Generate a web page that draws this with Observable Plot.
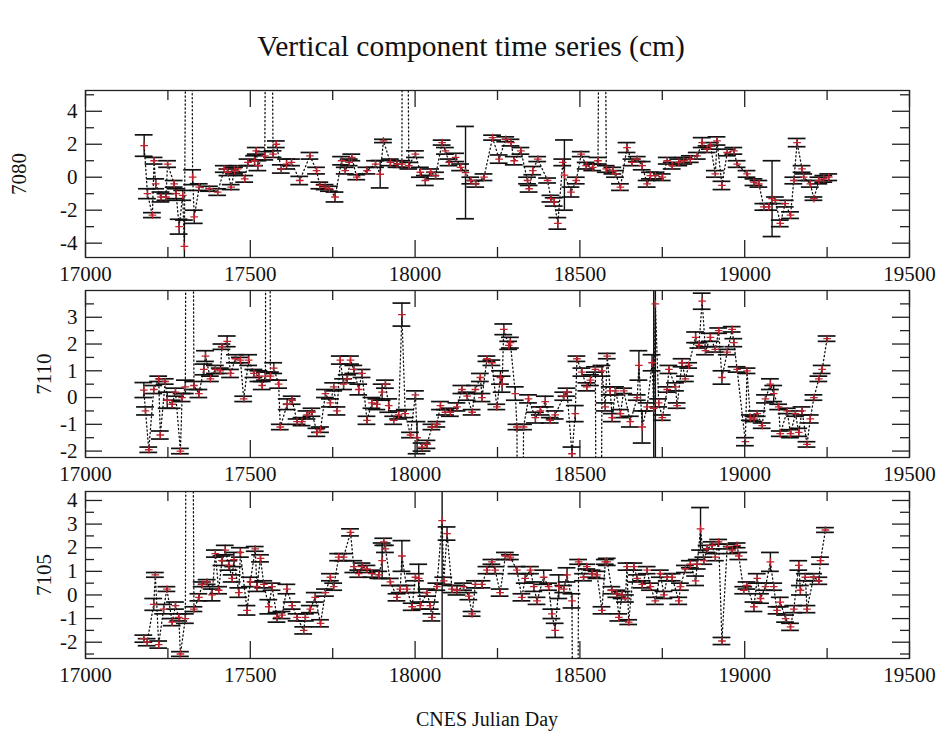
<!DOCTYPE html>
<html><head><meta charset="utf-8">
<script src="https://cdn.jsdelivr.net/npm/d3@7"></script>
<script src="https://cdn.jsdelivr.net/npm/@observablehq/plot@0.6"></script>
<style>
body{margin:0;background:#fff;}
#wrap{position:relative;width:942px;height:735px;font-family:"Liberation Serif","DejaVu Serif",serif;color:#111;overflow:hidden;}
.t{position:absolute;white-space:nowrap;}
.plot{position:absolute;left:0;}
.plot text{font-family:"Liberation Serif","DejaVu Serif",serif !important;}
</style></head><body><div id="wrap"></div>
<script>
// ---------- data ----------
const titleText = "Vertical component time series (cm)";
const xTitle = "CNES Julian Day";
const xDomain = [17000, 19500];
const xMajor = [17000, 17500, 18000, 18500, 19000, 19500];
const xMinor = [17250, 17750, 18250, 18750, 19250];

// station 7080
const days7080 = [17178,17188,17203,17208,17213,17229,17244,17249,17269,17275,17284,17295,17300,17315,17325,17330,17345,17376,17401,17421,17432,17442,17452,17462,17483,17493,17513,17518,17523,17544,17555,17569,17579,17594,17610,17625,17650,17681,17701,17711,17727,17740,17757,17777,17788,17800,17808,17823,17854,17880,17894,17904,17925,17945,17960,17965,17981,18001,18016,18031,18047,18062,18082,18092,18103,18123,18138,18153,18169,18184,18209,18235,18255,18275,18291,18301,18321,18341,18346,18357,18372,18402,18412,18422,18433,18448,18453,18473,18489,18504,18519,18539,18555,18567,18580,18600,18608,18623,18643,18658,18674,18689,18704,18714,18729,18750,18765,18780,18800,18815,18835,18856,18871,18886,18896,18911,18916,18931,18947,18967,18977,19007,19028,19043,19058,19073,19083,19093,19108,19123,19139,19149,19159,19174,19179,19199,19210,19225,19240,19255];
const vals7080 = [1.92,-1.0,-2.3,1.0,-0.4,-1.2,-1.2,0.8,-0.4,-1.0,-3.0,-1.1,-4.2,45,0.0,-2.4,-0.6,-0.7,-0.9,0.5,0.3,-0.6,0.4,0.5,-0.1,0.9,1.0,1.6,0.7,1.3,45,1.4,2.0,0.5,0.8,0.9,-0.2,1.3,0.4,-0.5,-0.6,-0.7,-1.2,1.0,0.4,0.9,1.2,0.0,0.4,0.8,0.18,2.2,0.9,0.8,0.8,45,0.7,1.4,0.3,-0.2,0.3,0.1,2.1,1.6,0.9,1.2,0.6,0.28,-0.2,-0.4,0.0,2.4,1.1,2.3,2.1,1.0,1.6,-0.2,-0.7,0.4,1.1,-0.2,-1.3,-1.5,-2.8,0.9,0.13,-0.9,-0.2,1.4,0.7,0.6,1.0,45,0.5,0.4,0.2,-0.6,1.8,0.9,1.1,0.7,-0.4,0.1,0.1,0.0,1.0,0.7,0.9,1.0,1.1,1.3,2.1,1.7,1.9,0.2,2.2,-0.5,1.5,1.6,0.8,0.2,-0.3,-0.4,-1.8,-1.8,-1.3,-1.4,-2.8,-1.6,-2.3,-0.2,2.1,0.5,0.0,-0.4,-1.3,-0.2,-0.1,0.0];
const errs7080 = [0.65,0.3,0.15,0.2,0.3,0.3,0.2,0.2,0.2,0.3,0.45,0.3,1.6,0.3,0.45,0.4,0.2,0.15,0.2,0.2,0.2,0.15,0.2,0.2,0.2,0.2,0.3,0.2,0.3,0.25,0.3,0.2,0.2,0.25,0.3,0.2,0.25,0.2,0.2,0.2,0.15,0.15,0.3,0.25,0.2,0.2,0.2,0.15,0.2,0.2,0.83,0.1,0.2,0.2,0.2,0.3,0.2,0.2,0.3,0.3,0.2,0.2,0.15,0.2,0.2,0.25,0.2,2.8,0.2,0.2,0.2,0.15,0.25,0.15,0.2,0.25,0.2,0.2,0.2,0.25,0.15,0.15,0.2,0.25,0.35,0.2,2.13,0.3,0.2,0.15,0.2,0.2,0.2,0.3,0.2,0.2,0.2,0.2,0.3,0.2,0.15,0.25,0.2,0.2,0.2,0.2,0.2,0.2,0.2,0.2,0.2,0.2,0.3,0.2,0.2,0.2,0.25,0.25,0.2,0.2,0.2,0.2,0.2,0.2,0.2,0.2,2.3,0.2,0.2,0.2,0.2,0.2,0.25,0.2,0.2,0.2,0.1,0.2,0.2,0.2];

// station 7110
const days7110 = [17177,17182,17192,17207,17222,17227,17242,17248,17263,17273,17288,17293,17303,17313,17329,17344,17359,17364,17379,17394,17409,17414,17430,17440,17455,17470,17480,17495,17511,17526,17536,17546,17551,17561,17571,17586,17591,17612,17627,17642,17657,17672,17687,17702,17713,17728,17743,17753,17763,17773,17783,17794,17804,17814,17829,17839,17854,17869,17884,17900,17910,17920,17935,17950,17960,17970,17986,18001,18006,18021,18036,18051,18066,18077,18092,18107,18127,18142,18158,18173,18183,18198,18203,18218,18233,18248,18259,18264,18269,18284,18289,18304,18309,18319,18329,18344,18365,18380,18395,18410,18425,18451,18461,18476,18486,18491,18506,18521,18532,18547,18557,18567,18577,18583,18592,18598,18608,18623,18633,18653,18674,18679,18689,18704,18719,18724,18729,18739,18750,18765,18770,18790,18795,18810,18820,18830,18851,18861,18871,18881,18896,18911,18921,18931,18947,18962,18967,18977,19002,19007,19017,19028,19038,19053,19063,19078,19088,19103,19108,19129,19139,19154,19164,19174,19189,19199,19210,19225,19235,19250];
const vals7110 = [0.28,-0.5,-1.95,0.3,0.7,-1.4,0.6,-0.1,-0.25,0.2,-2.0,0.0,0.4,45,0.45,0.15,1.05,1.55,0.7,1.05,1.0,1.9,2.1,0.9,1.45,1.4,-0.05,1.4,0.9,0.8,0.45,0.8,45,0.8,1.1,0.5,-1.1,-0.25,-0.1,-0.9,-0.9,-0.65,-0.55,-1.3,-1.2,0.15,-0.2,0.4,-0.5,1.4,0.5,0.7,1.4,1.05,0.3,0.9,-0.85,-0.2,-0.25,0.2,0.5,-0.3,-0.85,-0.65,3.1,-0.6,-1.4,0.1,-1.5,-1.85,-1.75,-1.1,-1.0,-0.3,-0.55,-0.55,-0.35,0.3,0.05,-0.55,0.3,0.75,0.0,1.45,1.3,-0.35,0.75,0.5,2.55,1.95,2.05,0.15,-1.1,-30,-1.1,-0.05,-0.75,-0.5,-0.15,-0.85,-0.65,0.05,0.2,-2.1,-0.6,1.45,0.95,0.4,0.65,1.05,-30,1.0,-0.35,1.55,0.25,-0.75,0.25,-0.6,0.25,-0.9,0.0,1.2,-1.1,-0.35,1.3,-0.4,3.5,-0.2,-0.75,0.3,1.05,0.4,-0.3,1.3,0.7,1.2,2.25,1.95,3.6,1.75,2.25,1.8,2.5,0.75,1.7,2.55,2.05,1.05,-1.65,1.0,-0.75,-0.8,-0.6,-1.05,-0.05,0.5,0.15,-0.35,-1.35,-0.5,-1.35,-0.6,-1.3,-0.5,-1.75,-0.8,0.0,0.7,1.05,2.2];
const errs7110 = [0.28,0.15,0.1,0.15,0.1,0.15,0.1,0.3,0.15,0.15,0.1,0.15,0.25,0.3,0.15,0.15,0.2,0.2,0.1,0.15,0.1,0.1,0.2,0.15,0.15,0.1,0.1,0.2,0.15,0.2,0.15,0.15,0.3,0.15,0.2,0.15,0.1,0.2,0.15,0.1,0.15,0.15,0.15,0.15,0.1,0.15,0.15,0.15,0.15,0.15,0.2,0.15,0.15,0.15,0.2,0.15,0.15,0.2,0.2,0.3,0.15,0.25,0.15,0.15,0.43,0.15,0.1,0.15,0.6,0.15,0.15,0.1,0.1,0.15,0.1,0.15,0.15,0.15,0.15,0.1,0.15,0.15,0.15,0.1,0.1,0.1,0.25,0.3,0.2,0.15,0.2,0.25,0.1,0.3,0.1,0.15,0.2,0.15,0.2,0.1,0.15,0.15,0.15,0.25,0.3,0.1,0.15,0.15,0.2,0.1,0.3,0.2,0.15,0.1,0.15,0.15,0.15,0.15,0.1,0.2,0.1,0.55,0.6,0.15,0.3,5,6,0.15,0.1,0.1,0.15,0.15,0.1,0.15,0.1,0.1,0.2,0.1,0.3,0.15,0.15,0.1,0.1,0.25,0.1,0.1,0.15,0.1,0.15,0.1,0.1,0.1,0.1,0.1,0.15,0.2,0.3,0.1,0.1,0.1,0.15,0.1,0.15,0.15,0.1,0.15,0.1,0.1,0.15,0.1];

// station 7105
const days7105 = [17177,17187,17207,17212,17222,17237,17247,17263,17273,17283,17288,17303,17313,17329,17344,17354,17369,17384,17394,17404,17414,17424,17435,17445,17450,17465,17470,17490,17500,17515,17520,17531,17541,17556,17566,17581,17596,17611,17627,17642,17662,17667,17682,17697,17713,17728,17743,17753,17768,17783,17804,17814,17829,17839,17854,17869,17890,17900,17905,17910,17925,17945,17955,17960,17975,17991,18001,18011,18016,18036,18046,18051,18066,18082,18087,18097,18112,18127,18147,18163,18173,18183,18203,18218,18233,18243,18258,18274,18289,18309,18324,18334,18350,18360,18370,18390,18405,18415,18425,18436,18451,18461,18476,18486,18496,18511,18521,18537,18552,18567,18577,18583,18597,18612,18618,18628,18638,18643,18648,18664,18674,18689,18704,18714,18729,18744,18755,18765,18780,18800,18805,18820,18835,18851,18856,18866,18876,18886,18901,18911,18921,18931,18947,18962,18977,18982,18997,19007,19028,19038,19048,19063,19078,19088,19098,19108,19124,19139,19149,19164,19169,19184,19189,19209,19225,19230,19245];
const vals7105 = [-1.85,-2.0,-0.4,0.85,-2.1,-0.6,0.25,-1.15,-0.45,-0.95,-2.5,-1.0,45,-0.6,-0.1,0.45,0.55,0.0,1.75,0.2,1.45,1.9,1.25,0.7,1.5,0.1,1.8,-0.65,0.55,1.95,0.35,1.55,0.45,-0.5,0.35,-0.95,-0.85,0.25,-0.45,-0.95,-1.5,-0.95,-0.6,-0.1,-1.2,0.1,0.75,0.35,1.6,1.6,2.65,1.2,0.9,1.2,1.1,0.9,0.85,1.45,2.25,1.95,0.55,-0.1,0.25,1.65,0.25,-0.5,0.75,0.7,-0.45,0.1,-0.45,-0.95,0.35,3.15,0.6,2.6,0.25,0.2,0.35,-0.05,-0.8,0.45,0.45,1.05,1.4,1.05,0.1,1.65,1.6,1.05,-0.1,0.7,1.05,0.35,-0.25,0.75,0.35,-0.8,-1.5,0.35,0.25,0.85,-0.25,-30,1.4,0.75,1.2,0.9,0.85,-0.65,1.4,1.4,0.2,0.05,-0.95,0.0,-0.15,1.2,-1.15,1.2,0.7,0.45,1.05,0.35,-0.25,0.9,0.0,0.75,0.75,-0.25,0.35,1.1,1.3,0.6,1.3,2.8,1.45,1.95,2.1,1.6,2.25,-1.95,2.05,1.9,2.1,1.65,0.2,0.4,-0.5,0.7,-0.15,0.35,1.4,0.35,-0.65,-0.3,-1.0,-1.35,-0.6,1.25,0.2,0.75,-0.6,0.75,0.6,1.45,2.75];
const errs7105 = [0.15,0.15,0.25,0.1,0.15,0.2,0.1,0.15,0.15,0.15,0.1,0.2,0.3,0.1,0.15,0.1,0.1,0.25,0.15,0.15,0.2,0.2,0.2,0.15,0.3,0.2,0.2,0.2,0.2,0.1,0.2,0.15,0.15,0.3,0.15,0.2,0.15,0.2,0.15,0.15,0.15,0.15,0.15,0.2,0.15,0.15,0.15,0.15,0.15,0.15,0.15,0.25,0.15,0.15,0.15,0.15,0.15,0.75,0.15,0.15,0.15,0.15,0.15,0.65,0.15,0.15,0.15,0.6,0.15,0.15,0.15,0.15,0.15,8,0.15,0.28,0.15,0.2,0.15,0.15,0.1,0.15,0.15,0.15,0.1,0.15,0.15,0.15,0.1,0.15,0.15,0.2,0.15,0.2,0.15,0.3,0.15,0.2,0.3,0.5,0.15,0.3,0.3,0.3,0.1,0.15,0.1,0.15,0.15,0.15,0.1,0.15,0.15,0.15,0.15,0.15,0.15,0.15,0.1,0.15,0.15,0.15,0.15,0.15,0.15,0.15,0.15,0.15,0.15,0.15,0.15,0.15,0.15,0.2,0.2,0.9,0.15,0.15,0.15,0.15,0.1,0.15,0.1,0.15,0.1,0.15,0.15,0.15,0.2,0.2,0.2,0.15,0.4,0.15,0.15,0.2,0.15,0.15,0.15,0.2,0.2,0.15,0.15,0.15,0.15,0.15,0.1];

// ---------- layout ----------
const W = 942, ML = 85, MR = 33, MT = 10, FH = 167, MB = 40;
const FW = W - ML - MR;
const FONT = '"Liberation Serif","DejaVu Serif",serif';
const INK = "#111";
const wrap = document.getElementById("wrap");

function addText(txt, css) {
  const d = document.createElement("div");
  d.className = "t";
  d.textContent = txt;
  Object.assign(d.style, css);
  wrap.appendChild(d);
  return d;
}

function panel(days, vals, errs, yDomain, yMajor, yMinor, frameTop, label, labelX) {
  const data = d3.sort(days.map((x, i) => ({x, y: vals[i], e: errs[i]})), d => d.x);
  const cap = 27;
  const tk = {stroke: "#222", strokeWidth: 1.3};
  const p = Plot.plot({
    width: W, height: MT + FH + MB,
    marginLeft: ML, marginRight: MR, marginTop: MT, marginBottom: MB,
    style: {fontFamily: FONT, fontSize: "21px", background: "transparent", color: INK, overflow: "visible"},
    x: {domain: xDomain, label: null},
    y: {domain: yDomain, label: null},
    marks: [
      Plot.line(data, {x: "x", y: "y", stroke: INK, strokeWidth: 1.3, strokeDasharray: "1.2,2.8", clip: true}),
      Plot.ruleX(data, {x: "x", y1: d => d.y - d.e, y2: d => d.y + d.e, stroke: INK, strokeWidth: 1.4, clip: true}),
      Plot.ruleY(data, {y: d => d.y + d.e, x1: d => d.x - cap, x2: d => d.x + cap, stroke: INK, strokeWidth: 1.7, clip: true}),
      Plot.ruleY(data, {y: d => d.y - d.e, x1: d => d.x - cap, x2: d => d.x + cap, stroke: INK, strokeWidth: 1.7, clip: true}),
      Plot.dot(data, {x: "x", y: "y", symbol: "plus", r: 2.6, stroke: "#c0222e", strokeWidth: 1.3, clip: true}),
      Plot.frame({stroke: "#222", strokeWidth: 1.3}),
      Plot.tickX(xMajor, {x: d => d, insetTop: FH - 17, ...tk}),
      Plot.tickX(xMajor, {x: d => d, insetBottom: FH - 17, ...tk}),
      Plot.tickX(xMinor, {x: d => d, insetTop: FH - 10, ...tk}),
      Plot.tickX(xMinor, {x: d => d, insetBottom: FH - 10, ...tk}),
      Plot.tickY(yMajor, {y: d => d, insetRight: FW - 17, ...tk}),
      Plot.tickY(yMajor, {y: d => d, insetLeft: FW - 17, ...tk}),
      Plot.tickY(yMinor, {y: d => d, insetRight: FW - 9, ...tk}),
      Plot.tickY(yMinor, {y: d => d, insetLeft: FW - 9, ...tk}),
      Plot.axisX({ticks: xMajor, tickSize: 0, tickPadding: 9, tickFormat: d => String(d), fontSize: 21, fontFamily: FONT, label: null, fill: INK}),
      Plot.axisY({ticks: yMajor, tickSize: 0, tickPadding: 8, tickFormat: d => String(d), fontSize: 21, fontFamily: FONT, label: null, fill: INK})
    ]
  });
  p.classList.add("plot");
  p.style.top = (frameTop - MT) + "px";
  wrap.appendChild(p);
  const cy = frameTop + FH / 2;
  addText(label, {left: (labelX - 50) + "px", top: (cy - 12) + "px", width: "100px", height: "24px", lineHeight: "24px",
    textAlign: "center", fontSize: "21px", transform: "rotate(-90deg)"});
}

addText(titleText, {left: "0px", top: "31px", width: W + "px", textAlign: "center", fontSize: "29.5px", lineHeight: "30px"});

panel(days7080, vals7080, errs7080, [-4.87, 5.26], [-4, -2, 0, 2, 4], [-3, -1, 1, 3, 5], 90, "7080", 19);
panel(days7110, vals7110, errs7110, [-2.24, 4.0], [-2, -1, 0, 1, 2, 3], [-1.5, -0.5, 0.5, 1.5, 2.5, 3.5], 290, "7110", 44);
panel(days7105, vals7105, errs7105, [-2.69, 4.38], [-2, -1, 0, 1, 2, 3, 4], [-2.5, -1.5, -0.5, 0.5, 1.5, 2.5, 3.5], 491, "7105", 44);

addText(xTitle, {left: "0px", top: "708px", width: "974px", textAlign: "center", fontSize: "20px", lineHeight: "22px"});
</script>
</body></html>
